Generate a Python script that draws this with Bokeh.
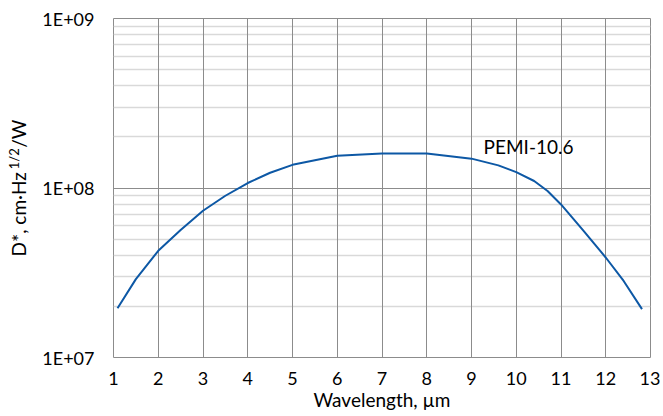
from bokeh.plotting import figure
from bokeh.models import FixedTicker, LinearAxis, CustomJSTickFormatter
from bokeh.models import Label
from bokeh.embed import file_html
from bokeh.resources import INLINE

# ---- data ----
wavelength_um = [1.09, 1.5, 2.0, 2.5, 3.0, 3.5, 4.0, 4.5, 5.0, 6.0, 7.0, 8.0, 9.0, 9.6,
                 10.0, 10.4, 10.7, 11.0, 11.5, 12.0, 12.4, 12.81]
detectivity = [1.95e7, 2.9e7, 4.26e7, 5.65e7, 7.34e7, 9.0e7, 1.07e8, 1.23e8, 1.37e8,
               1.55e8, 1.60e8, 1.60e8, 1.49e8, 1.36e8, 1.24e8, 1.10e8, 9.6e7, 8.0e7,
               5.6e7, 3.89e7, 2.83e7, 1.93e7]
series_name = "PEMI-10.6"
x_ticks = list(range(1, 14))
y_ticks = [10**7, 10**8, 10**9]
y_tick_labels = ["1E+07", "1E+08", "1E+09"]
y_minor_ticks = [m * 10**e for e in (7, 8) for m in range(2, 10)]
x_title = "Wavelength, µm"
y_title_main = "D*, cm·Hz" + "\u00a0" * 5 + "/W"
y_title_sup = "\u2002" * 9 + "1/2"   # leading en-spaces lift the superscript above "Hz"

FONT = "Lato"
GRID_DARK = "#8c8c8c"
GRID_LIGHT = "#d9d9d9"

p = figure(width=660, height=416, x_range=(1, 13), y_range=(1e7, 1e9),
           y_axis_type="log", output_backend="svg", toolbar_location=None,
           min_border_left=113, min_border_right=10, min_border_top=18,
           min_border_bottom=59)
p.outline_line_color = GRID_DARK
p.outline_line_width = 1

p.xaxis.ticker = FixedTicker(ticks=x_ticks)
p.yaxis.ticker = FixedTicker(ticks=y_ticks, minor_ticks=y_minor_ticks)
p.yaxis.formatter = CustomJSTickFormatter(
    args=dict(tvals=y_ticks, tlabels=y_tick_labels),
    code="const i = tvals.findIndex(t => Math.abs(t - tick) < 1e-3 * t); return i >= 0 ? tlabels[i] : '';")

for ax in (p.xaxis[0], p.yaxis[0]):
    ax.axis_line_color = None
    ax.major_tick_line_color = None
    ax.minor_tick_line_color = None
    ax.major_tick_out = 0
    ax.minor_tick_out = 0
    ax.major_label_text_font = FONT
    ax.major_label_text_font_size = "18px"
    ax.major_label_text_color = "#000000"
p.xaxis.major_label_standoff = 14
p.yaxis.major_label_standoff = 19

p.xaxis.axis_label = x_title
p.xaxis.axis_label_standoff = 0
p.xaxis.axis_label_text_font = FONT
p.xaxis.axis_label_text_font_size = "19px"
p.xaxis.axis_label_text_font_style = "normal"
p.xaxis.axis_label_text_color = "#000000"

p.yaxis.axis_label = y_title_main
p.yaxis.axis_label_standoff = 9
p.yaxis.axis_label_text_font = FONT
p.yaxis.axis_label_text_font_size = "19px"
p.yaxis.axis_label_text_font_style = "normal"
p.yaxis.axis_label_text_color = "#000000"

# superscript part of the y title, carried by a tick-less helper axis
sup_axis = LinearAxis(ticker=FixedTicker(ticks=[]),
                      axis_line_color=None, major_tick_line_color=None,
                      minor_tick_line_color=None, major_tick_out=0, minor_tick_out=0,
                      axis_label=y_title_sup,
                      axis_label_standoff=-17, axis_label_text_font=FONT,
                      axis_label_text_font_size="13px",
                      axis_label_text_font_style="normal",
                      axis_label_text_color="#000000")
p.add_layout(sup_axis, "left")

p.xgrid.grid_line_color = GRID_DARK
p.xgrid.grid_line_width = 1
p.ygrid.grid_line_color = GRID_DARK
p.ygrid.grid_line_width = 1
p.ygrid.minor_grid_line_color = GRID_LIGHT
p.ygrid.minor_grid_line_width = 1.5
# draw the light horizontal lines beneath the vertical ones
p.center = [p.ygrid[0], p.xgrid[0]]

p.line(wavelength_um, detectivity, line_color="#0d58a5", line_width=2)

p.add_layout(Label(x=9.27, y=1.75e8, text=series_name, text_font=FONT,
                   text_font_size="19px", text_baseline="middle", text_color="#000000"))

open("out.html", "w").write(file_html(p, INLINE))
